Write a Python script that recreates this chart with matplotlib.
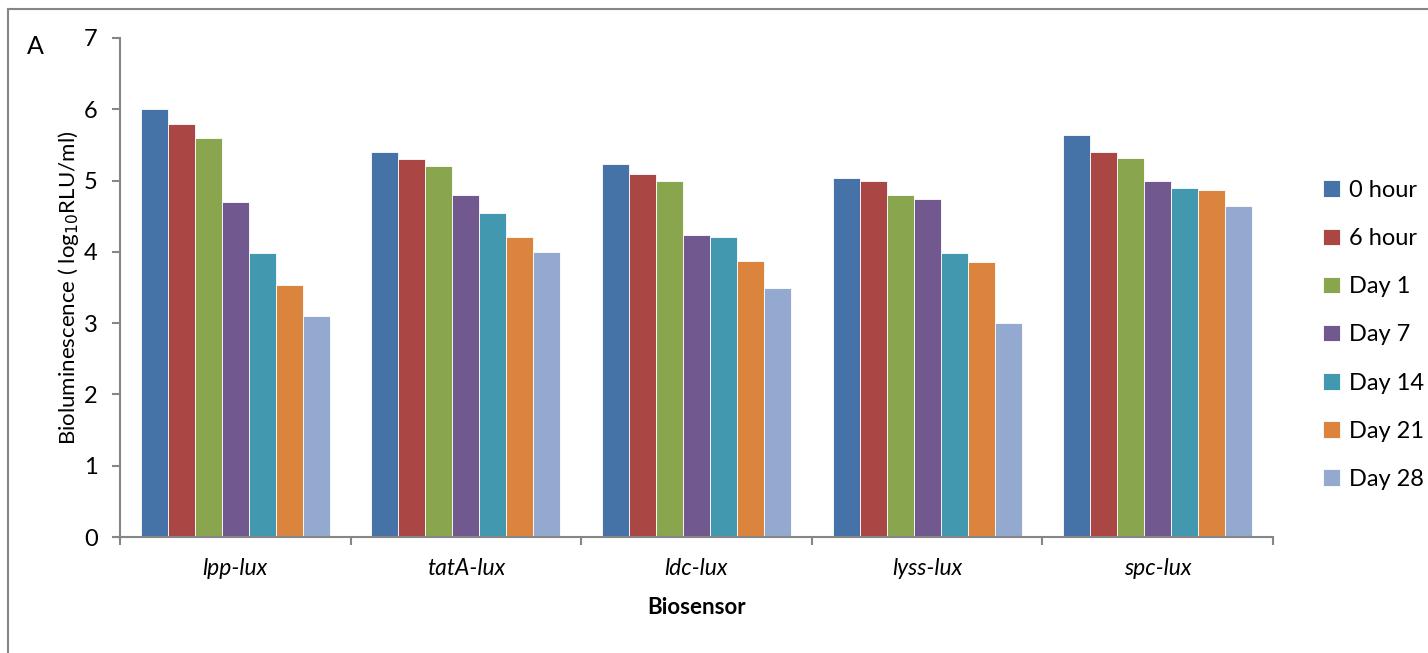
import matplotlib.pyplot as plt
import numpy as np
from matplotlib.lines import Line2D

plt.rcParams['font.family'] = ['Lato', 'DejaVu Sans']

sensors = ['lpp-lux', 'tatA-lux', 'ldc-lux', 'lyss-lux', 'spc-lux']
times = ['0 hour', '6 hour', 'Day 1', 'Day 7', 'Day 14', 'Day 21', 'Day 28']
colors = ['#4572A7', '#AA4643', '#89A54E', '#71588F', '#4198AF', '#DB843D', '#93A9CF']

hour0 = [6.00, 5.40, 5.23, 5.04, 5.64]
hour6 = [5.80, 5.30, 5.09, 5.00, 5.40]
day1 = [5.60, 5.21, 5.00, 4.80, 5.32]
day7 = [4.70, 4.80, 4.24, 4.74, 5.00]
day14 = [3.98, 4.54, 4.21, 3.99, 4.90]
day21 = [3.54, 4.21, 3.87, 3.86, 4.87]
day28 = [3.10, 4.00, 3.50, 3.00, 4.65]
series = [hour0, hour6, day1, day7, day14, day21, day28]

fig = plt.figure(figsize=(14.28, 6.53), dpi=100)
ax = fig.add_axes([120 / 1428, 1 - 537 / 653, 1153 / 1428, 499 / 653])

x = np.arange(len(sensors))
w = 0.117
for i, vals in enumerate(series):
    ax.bar(x - 3 * w + i * w, vals, w, color=colors[i], edgecolor='white',
           linewidth=0.6, label=times[i])

ax.set_xlim(-0.5, 4.5)
ax.set_ylim(0, 7)
ax.set_yticks(range(8))
ax.set_xticks(x)
ax.set_xticklabels(sensors, fontsize=16.5, style='italic')
ax.set_xticks(np.arange(-0.5, 5, 1), minor=True)
ax.tick_params(axis='x', which='major', length=0, pad=15)
ax.tick_params(axis='x', which='minor', length=6, color='#868686', width=1.5)
ax.tick_params(axis='y', length=6, color='#868686', width=1.5, labelsize=17, pad=10)
for s in ['top', 'right']:
    ax.spines[s].set_visible(False)
for s in ['left', 'bottom']:
    ax.spines[s].set_color('#868686')
    ax.spines[s].set_linewidth(1.5)

ax.set_xlabel('Biosensor', fontsize=16, fontweight='bold', labelpad=13)
ax.set_ylabel('Bioluminescence ( log$_{10}$RLU/ml)', fontsize=16, labelpad=2)

ax.legend(loc='center left', bbox_to_anchor=(1.025, 0.405), frameon=False,
          fontsize=17, handlelength=0.7, handleheight=0.7, handletextpad=0.4,
          labelspacing=1.15)

fig.text(27 / 1428, 1 - 47 / 653, 'A', fontsize=18, ha='left', va='center')
fig.add_artist(Line2D([8 / 1428, 8 / 1428], [0, 1 - 9 / 653], color='#868686', lw=1.5))
fig.add_artist(Line2D([8 / 1428, 1], [1 - 9 / 653, 1 - 9 / 653], color='#868686', lw=1.5))

fig.savefig('out.png', dpi=100)
